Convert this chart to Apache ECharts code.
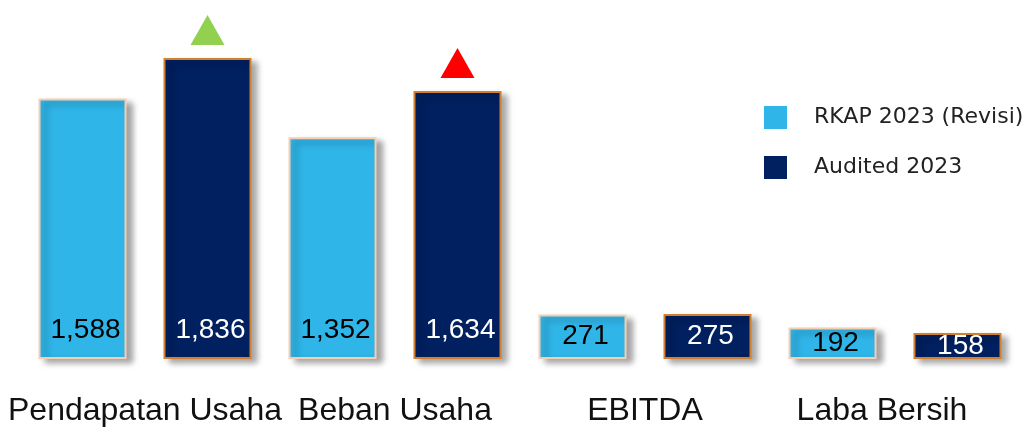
<!DOCTYPE html>
<html>
<head>
<meta charset="utf-8">
<script src="https://cdn.jsdelivr.net/npm/echarts@6/dist/echarts.min.js"></script>
<style>
  html, body { margin: 0; padding: 0; background: #fff; }
  #chart { width: 1027px; height: 429px; }
</style>
</head>
<body>
<div id="chart"></div>
<script>
// data
const categories = ['Pendapatan Usaha', 'Beban Usaha', 'EBITDA', 'Laba Bersih']
const rkap = [1588, 1352, 271, 192]
const audited = [1836, 1634, 275, 158]
// arah panah di atas bar Audited (null = tidak ada)
const trendColors = ['#92D050', '#FF0000', null, null]

const chart = echarts.init(document.getElementById('chart'))

const shadow = {
  shadowColor: 'rgba(0,0,0,0.35)',
  shadowBlur: 6,
  shadowOffsetX: 6,
  shadowOffsetY: 4
}

function barData(values, color) {
  return values.map(v => ({
    value: v,
    label: {
      // bar kecil: label di tengah
      position: v < 400 ? 'inside' : 'insideBottom',
      distance: 15,
      color: color
    }
  }))
}

chart.setOption({
  animation: false,
  grid: { left: 20, right: 7, top: 31, bottom: 70 },
  legend: {
    orient: 'vertical',
    left: 764,
    top: 106,
    padding: 0,
    itemWidth: 23,
    itemHeight: 23,
    itemGap: 27,
    icon: 'rect',
    data: ['RKAP 2023 (Revisi)', 'Audited 2023'],
    itemStyle: { borderWidth: 0, shadowBlur: 0, shadowOffsetX: 0, shadowOffsetY: 0 },
    textStyle: {
      fontFamily: 'DejaVu Sans',
      fontSize: 22,
      color: '#222',
      padding: [3, 0, 0, 22]
    }
  },
  xAxis: {
    type: 'category',
    // Laba Bersih di gambar agak geser ke kiri
    data: categories.map((c, i) => i === 3
      ? { value: c, textStyle: { padding: [0, 26, 0, 0] } }
      : c),
    axisLine: { show: false },
    axisTick: { show: false },
    axisLabel: {
      margin: 36,
      fontFamily: 'Liberation Sans',
      fontSize: 32,
      color: '#111',
      interval: 0
    }
  },
  yAxis: {
    type: 'value',
    min: 0,
    max: 2000,
    show: false,
    splitLine: { show: false }
  },
  series: [
    {
      name: 'RKAP 2023 (Revisi)',
      type: 'bar',
      barWidth: 88,
      barGap: '42%',
      data: barData(rkap, '#000'),
      itemStyle: Object.assign({
        color: '#2FB5E8',
        borderColor: '#F6CDB0',
        borderWidth: 2
      }, shadow),
      label: {
        show: true,
        fontFamily: 'Liberation Sans',
        fontSize: 28,
        offset: [3, 0],
        formatter: p => p.value.toLocaleString('en-US')
      }
    },
    {
      name: 'Audited 2023',
      type: 'bar',
      barWidth: 88,
      barGap: '42%',
      data: barData(audited, '#fff'),
      itemStyle: Object.assign({
        color: '#002060',
        borderColor: '#D0802F',
        borderWidth: 2
      }, shadow),
      label: {
        show: true,
        fontFamily: 'Liberation Sans',
        fontSize: 28,
        offset: [3, 0],
        formatter: p => p.value.toLocaleString('en-US')
      }
    },
    {
      // segitiga indikator di atas bar Audited
      type: 'scatter',
      symbol: 'triangle',
      symbolSize: [34, 30],
      symbolOffset: [62.5, -28],
      silent: true,
      itemStyle: { opacity: 1 },
      data: audited.map((v, i) => trendColors[i]
        ? { value: v, itemStyle: { color: trendColors[i], opacity: 1 } }
        : null)
    }
  ]
})
</script>
</body>
</html>
